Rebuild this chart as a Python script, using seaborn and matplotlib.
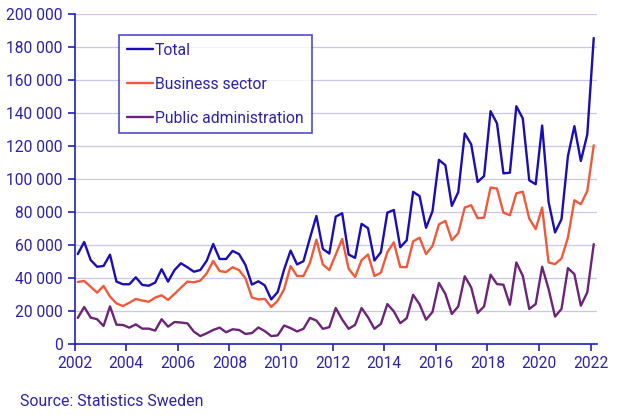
import numpy as np
import pandas as pd
import seaborn as sns
import matplotlib.pyplot as plt
from matplotlib.ticker import FuncFormatter

# quarterly values, 2002 Q1 - 2022 Q1
total = [54500, 61800, 50900, 46800, 47300, 54100, 37800, 36200, 36200, 40400,
         35800, 35300, 37200, 45300, 37800, 44800, 48900, 46500, 43800, 44800,
         50500, 60600, 51500, 51500, 56400, 54500, 47900, 36000, 38000, 35500,
         27000, 31500, 45200, 56600, 48200, 50200, 64200, 77600, 57600, 54800,
         77200, 79200, 54200, 52200, 72800, 70200, 50600, 55600, 79600, 81200,
         58600, 62800, 92200, 89600, 70400, 80500, 111600, 108300, 83700, 92100,
         127600, 121000, 98200, 101800, 141100, 133700, 103400, 103800, 144100, 136700,
         99200, 96800, 132400, 86100, 67600, 75600, 113900, 132000, 110900, 127000,
         185400]
business = [37600, 38200, 34700, 31100, 35200, 28700, 24600, 23000, 25000, 27300,
            26300, 25600, 28100, 29500, 26700, 30300, 34100, 37800, 37400, 38400,
            42800, 50300, 44200, 43600, 46500, 44800, 39800, 28200, 27000, 27300,
            22400, 26200, 33200, 47200, 41200, 41200, 49200, 63200, 48200, 44800,
            54200, 63600, 45600, 40600, 50800, 54200, 41200, 43200, 55600, 61600,
            46600, 46600, 62200, 64400, 54500, 59400, 72500, 74600, 62900, 67200,
            82700, 84100, 76200, 76600, 94800, 94200, 79600, 78000, 91300, 92300,
            76000, 69600, 82700, 49400, 48400, 51800, 64500, 87100, 84700, 92700,
            120400]
public = [15800, 22400, 16000, 15000, 10900, 22800, 11700, 11500, 9900, 11900,
          9300, 9300, 8100, 15000, 10500, 13300, 13000, 12500, 7500, 4800,
          6500, 8500, 9900, 7100, 8900, 8500, 6100, 6600, 10000, 7800,
          4800, 5200, 11200, 9600, 7600, 9200, 15800, 14200, 9200, 10200,
          21800, 14800, 9200, 11600, 21800, 16200, 9200, 12200, 24200, 19800,
          12600, 15600, 29800, 24000, 14700, 19400, 37000, 30300, 18200, 22800,
          41000, 34300, 18800, 22800, 42000, 36300, 35900, 23800, 49400, 41300,
          21200, 24200, 46800, 33300, 16600, 21200, 46000, 42300, 23200, 31300,
          60500]

series_names = ['Total', 'Business sector', 'Public administration']
colors = ['#1a0db4', '#f05a3a', '#6b2478']
year_ticks = list(range(2002, 2023, 2))

n = len(total)
t = 2002 + (np.arange(n) + 0.5) / 4
df = pd.DataFrame({'t': t, 'Total': total, 'Business sector': business,
                   'Public administration': public})
long_df = df.melt(id_vars='t', var_name='series', value_name='value')

text_col = '#2b22a8'
axis_col = '#2020b8'

sns.set_style('white')
plt.rcParams['font.family'] = ['Roboto', 'DejaVu Sans']

fig = plt.figure(figsize=(6.19, 4.2), dpi=100)
ax = fig.add_axes([0.1204, 0.181, 0.844, 0.7857])

sns.lineplot(data=long_df, x='t', y='value', hue='series', hue_order=series_names,
             palette=dict(zip(series_names, colors)), linewidth=1.7, ax=ax)

ax.set_xlim(2002, 2022.25)
ax.set_ylim(0, 200000)
ax.set_yticks(range(0, 200001, 20000))
ax.set_xticks(year_ticks)
ax.yaxis.set_major_formatter(FuncFormatter(lambda v, p: f'{v:,.0f}'.replace(',', ' ')))
ax.grid(axis='y', color='#c8c8ec', linewidth=0.9)
ax.set_axisbelow(True)
ax.set_xlabel('')
ax.set_ylabel('')

for s in ['top', 'right']:
    ax.spines[s].set_visible(False)
for s in ['left', 'bottom']:
    ax.spines[s].set_color(axis_col)
    ax.spines[s].set_linewidth(1.2)
ax.tick_params(axis='both', colors=axis_col, labelcolor=text_col, labelsize=11.2,
               direction='out', length=5, width=1.2, left=True, bottom=True)

leg = ax.legend(loc='upper left', bbox_to_anchor=(0.085, 0.936), borderaxespad=0,
                fancybox=False, frameon=True, fontsize=11.3, handlelength=1.7,
                handletextpad=0.1, labelspacing=1.2, borderpad=0.5)
leg.get_frame().set_edgecolor(axis_col)
leg.get_frame().set_linewidth(1.2)
for txt in leg.get_texts():
    txt.set_color(text_col)

fig.text(20 / 619, 1 - 401 / 420, 'Source: Statistics Sweden', color=text_col,
         fontsize=11.4, va='center', ha='left')

fig.savefig('out.png', dpi=100)
